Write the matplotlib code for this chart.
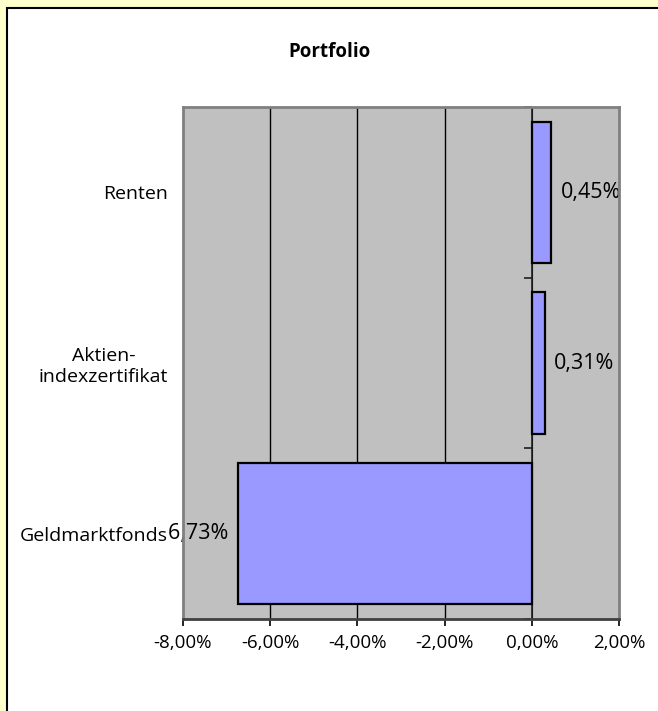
import matplotlib
matplotlib.use("Agg")
import matplotlib.pyplot as plt
from matplotlib.patches import Rectangle

plt.rcParams['font.family'] = ['Open Sans', 'DejaVu Sans']

categories = ["Renten", "Aktien-\nindexzertifikat", "Geldmarktfonds"]
values = [0.45, 0.31, -6.73]
value_labels = ["0,45%", "0,31%", "-6,73%"]
xticks = [-8, -6, -4, -2, 0, 2]
xtick_labels = ["-8,00%", "-6,00%", "-4,00%", "-2,00%", "0,00%", "2,00%"]
title = "Portfolio"

W, H = 658, 711
fig = plt.figure(figsize=(W / 100, H / 100), dpi=100)
fig.patch.set_facecolor("#FFFFCC")
fig.patches.append(Rectangle((7 / W, -0.01), 1.0, 1 - 8 / H + 0.01,
                             transform=fig.transFigure, facecolor="white",
                             edgecolor="black", linewidth=1.5, zorder=-5))

left, right = 183 / W, 619 / W
top, bottom = 1 - 107 / H, 1 - 619 / H
ax = fig.add_axes([left, bottom, right - left, top - bottom])
ax.set_facecolor("#C0C0C0")

fs_tick = 13.5
fs_cat = 14
fs_val = 15.5
ypos = list(range(len(categories)))
ax.barh(ypos, values, height=0.83, color="#9999FF", edgecolor="black",
        linewidth=1.6, zorder=2)

for g in xticks[1:-1]:
    if g != 0:
        ax.axvline(g, color="black", linewidth=1.0, zorder=0.5)
# category axis line at zero
ax.axvline(0, color="#202020", linewidth=1.2, zorder=0.6)

ax.set_xlim(xticks[0], xticks[-1])
ax.set_ylim(len(categories) - 0.5, -0.5)

ax.set_xticks(xticks)
ax.set_xticklabels(xtick_labels, fontsize=fs_tick)
ax.tick_params(axis="x", direction="out", length=5, width=1.2, color="black",
               pad=6, labelcolor="black")
ax.set_yticks(ypos)
ax.set_yticklabels(categories, fontsize=fs_cat, multialignment="center")
ax.tick_params(axis="y", length=0, pad=10.8)
for lbl in ax.get_yticklabels():
    lbl.set_bbox(dict(facecolor="white", edgecolor="none", pad=0.5))

for side in ["left", "right", "top"]:
    ax.spines[side].set_color("#808080")
    ax.spines[side].set_linewidth(2)
ax.spines["bottom"].set_color("#404040")
ax.spines["bottom"].set_linewidth(2)

zero_frac = (0 - xticks[0]) / (xticks[-1] - xticks[0])
sec = ax.secondary_yaxis(zero_frac)
sec.set_yticks([b - 0.5 for b in range(len(categories) + 1)])
sec.set_yticklabels([])
sec.tick_params(axis="y", direction="in", length=6, width=1.2, color="#202020")
sec.spines["left"].set_visible(False)

for y, v, t in zip(ypos, values, value_labels):
    if v >= 0:
        ax.annotate(t, (v, y), xytext=(9, 0), textcoords="offset pixels",
                    ha="left", va="center", fontsize=fs_val, zorder=1.2,
                    annotation_clip=False)
    else:
        ax.annotate(t, (v, y), xytext=(-10, 0), textcoords="offset pixels",
                    ha="right", va="center", fontsize=fs_val, zorder=1.2,
                    annotation_clip=False)

fig.text(0.5, 1 - 52 / H, title, ha="center", va="center", fontsize=fs_tick,
         fontweight="bold")

fig.savefig("out.png", dpi=100, facecolor=fig.get_facecolor())
